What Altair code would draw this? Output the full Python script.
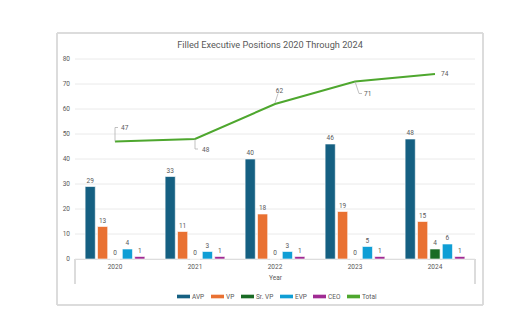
import altair as alt
import pandas as pd

years = ["2020", "2021", "2022", "2023", "2024"]
positions = ["AVP", "VP", "Sr. VP", "EVP", "CEO"]
avp = [29, 33, 40, 46, 48]
vp = [13, 11, 18, 19, 15]
sr_vp = [0, 0, 0, 0, 4]
evp = [4, 3, 3, 5, 6]
ceo = [1, 1, 1, 1, 1]
total = [47, 48, 62, 71, 74]
y_ticks = [0, 10, 20, 30, 40, 50, 60, 70, 80]

colors = ["#156082", "#E97132", "#196B24", "#0F9ED5", "#A02B93", "#4EA72E"]

series = [avp, vp, sr_vp, evp, ceo]
bars_df = pd.DataFrame(
    [{"Year": y, "Position": p, "Count": s[i]} for p, s in zip(positions, series) for i, y in enumerate(years)]
)
total_df = pd.DataFrame({"Year": years, "Count": total, "Series": "Total"})
ticks_df = pd.DataFrame({"Count": y_ticks})

FONT = "Roboto"
GRAY = "#595959"

color_scale = alt.Scale(domain=positions + ["Total"], range=colors)
x_axis = alt.Axis(labelAngle=0, ticks=False, domainColor="#d9d9d9", labelPadding=4,
                  titlePadding=5, labelFontSize=6.5, titleFontSize=6.5,
                  labelColor=GRAY, titleColor=GRAY, titleFontWeight="normal",
                  labelFont=FONT, titleFont=FONT, grid=False)
x_scale = alt.Scale(paddingInner=0.225, paddingOuter=0.1125)
y_scale = alt.Scale(domain=[0, 80], nice=False)


def X():
    return alt.X("Year:N", title="Year", scale=x_scale, axis=x_axis)


def Y():
    return alt.Y("Count:Q", title=None, scale=y_scale, axis=None)


xoff = alt.XOffset("Position:N", sort=positions, scale=alt.Scale(paddingInner=0.18, paddingOuter=0.09))

# y gridlines and labels drawn from the tick values through the y scale
grid = alt.Chart(ticks_df).mark_rule(color="#e4e4e4", strokeWidth=0.8).encode(
    y=Y(), x=alt.value(0), x2=alt.value(400)
)
grid_labels = alt.Chart(ticks_df).mark_text(
    align="right", baseline="middle", dx=-5, fontSize=6.5, fill=GRAY, font=FONT
).encode(y=Y(), x=alt.value(0), text="Count:Q")

base_bars = alt.Chart(bars_df)
bars = base_bars.mark_bar(stroke="white", strokeWidth=0.6).encode(
    x=X(),
    y=Y(),
    xOffset=xoff,
    color=alt.Color(
        "Position:N",
        scale=color_scale,
        sort=positions + ["Total"],
        legend=alt.Legend(
            title=None, orient="none", direction="horizontal", legendX=102, legendY=231,
            symbolType="M-1,-0.28H1V0.28H-1Z", symbolSize=169, symbolStrokeWidth=0,
            labelFontSize=6.5, labelColor=GRAY, labelFont=FONT, columnPadding=6,
            labelOffset=2,
        ),
    ),
)
bar_labels = base_bars.mark_text(baseline="bottom", dy=-3, fontSize=6.5, fill=GRAY, font=FONT).encode(
    x=X(), y=Y(), xOffset=xoff, text="Count:Q"
)

line = alt.Chart(total_df).mark_line(strokeWidth=2).encode(
    x=X(),
    y=Y(),
    color=alt.Color("Series:N", scale=color_scale),
)

# label placements (pixel offsets from each point): label dx, dy, align, leader segments
placements = {
    "2020": (6, -14, "left", [((0, 0), (0, -14)), ((0, -14), (3, -14))]),
    "2021": (7, 10.5, "left", [((0, 0), (0, 10)), ((0, 10), (3, 10))]),
    "2022": (4.5, -13.5, "center", [((0, -1), (3, -10.5))]),
    "2023": (9, 12.5, "left", [((0, 0), (4, 12)), ((4, 12), (7, 12))]),
    "2024": (6, 0, "left", []),
}
layers = [grid, grid_labels, bars, bar_labels, line]
for yr, (dx, dy, align, segs) in placements.items():
    src = alt.Chart(total_df).transform_filter(alt.datum.Year == yr)
    layers.append(
        src.mark_text(dx=dx, dy=dy, align=align, baseline="middle", fontSize=6.5, fill=GRAY, font=FONT).encode(
            x=X(), y=Y(), text="Count:Q"
        )
    )
    for (x1, y1), (x2, y2) in segs:
        layers.append(
            src.mark_rule(color="#a6a6a6", strokeWidth=0.7, xOffset=x1, yOffset=y1, x2Offset=x2, y2Offset=y2).encode(
                x=X(), x2="Year:N", y=Y(), y2="Count:Q"
            )
        )

frame = alt.Chart(total_df).mark_rect(fill=None, stroke="#d9d9d9", strokeWidth=0.8).encode(
    x=alt.value(-18), x2=alt.value(408), y=alt.value(-26), y2=alt.value(246)
)
edge_left = alt.Chart(total_df).mark_rule(color="#d9d9d9", strokeWidth=0.8).encode(
    x=alt.value(0), y=alt.value(200), y2=alt.value(225)
)
edge_right = alt.Chart(total_df).mark_rule(color="#d9d9d9", strokeWidth=0.8).encode(
    x=alt.value(400), y=alt.value(200), y2=alt.value(225)
)
layers = [frame, edge_left, edge_right] + layers

chart = alt.layer(*layers).properties(
    width=400,
    height=200,
    title=alt.TitleParams(
        "Filled Executive Positions 2020 Through 2024",
        fontSize=9.2, color=GRAY, fontWeight="normal", font=FONT, offset=9, dx=-5, dy=27,
    ),
    autosize=alt.AutoSizeParams(type="none"),
    padding={"left": 75, "top": 59, "right": 40, "bottom": 72},
    background="white",
).configure_view(stroke=None)

chart.save("out.html", embed_options={"renderer": "svg", "actions": False})
